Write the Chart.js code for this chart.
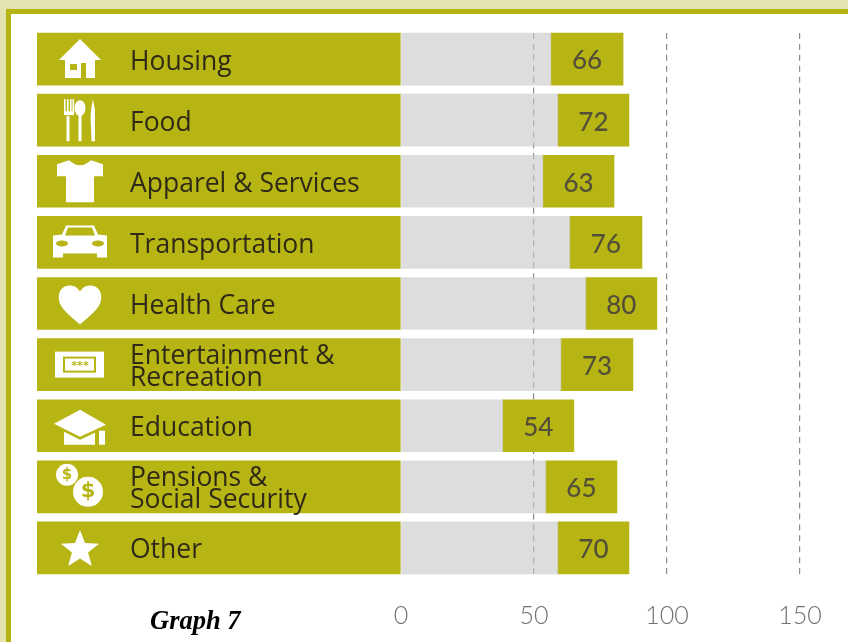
<!DOCTYPE html>
<html>
<head>
<meta charset="utf-8">
<title>Graph 7</title>
<script src="https://cdn.jsdelivr.net/npm/chart.js@4"></script>
<style>
  html, body { margin: 0; padding: 0; width: 848px; height: 642px; overflow: hidden; background: #e4e3b0; }
  #panel { position: absolute; left: 6px; top: 9px; width: 842px; height: 633px; box-sizing: border-box;
           background: #fff; border-top: 5px solid #b5b30f; border-left: 5px solid #b5b30f; }
  #barChart { position: absolute; left: 0; top: 0; }
  #caption { position: absolute; left: 150px; top: 605px; font: italic bold 26.5px "Liberation Serif", serif; color: #000; }
</style>
</head>
<body>
<div id="panel"></div>
<canvas id="barChart" width="848" height="642"></canvas>
<div id="caption">Graph 7</div>
<script>
const categories = ["Housing", "Food", "Apparel & Services", "Transportation", "Health Care",
  ["Entertainment &", "Recreation"], "Education", ["Pensions &", "Social Security"], "Other"];
const values = [66, 72, 63, 76, 80, 73, 54, 65, 70];
// the bars in the picture do not sit on the axis at their printed value, so these are read off it
const grayEnds = [56.4, 59, 53.4, 63.5, 69.5, 60.2, 38.3, 54.5, 59];
const barEnds = [83.5, 85.7, 80.1, 90.6, 96.2, 87.2, 65, 81.2, 85.7];
const labelStart = -136.8;
const xTicks = [0, 50, 100, 150];

const OLIVE = "#b7b513";
// see-through so the dashed grid line under it still shows, the olive boxes hide it
const GRAY = "rgba(200,200,202,0.62)";
const LABEL_FONT = "'Open Sans', sans-serif";
const NUMBER_FONT = "Lato, sans-serif";

// white pictograms, drawn around (0,0) in a box of about 50x50
const icons = [
  function house(c) {
    c.beginPath();
    c.moveTo(0, -20); c.lineTo(21, 1); c.lineTo(15, 1); c.lineTo(15, 19); c.lineTo(6, 19); c.lineTo(6, 4);
    c.lineTo(1, 4); c.lineTo(1, 19); c.lineTo(-15, 19); c.lineTo(-15, 1); c.lineTo(-21, 1); c.closePath();
    c.fill();
    c.fillStyle = OLIVE; c.fillRect(-10, 5, 7, 6);
  },
  function cutlery(c) {
    c.fillRect(-13.5, -4, 3, 25);
    for (let x of [-16, -13, -10, -7.5]) c.fillRect(x, -21, 1.6, 13);
    c.fillRect(-16, -9, 10, 4);
    c.beginPath(); c.ellipse(0, -12, 5.5, 8, 0, 0, Math.PI * 2); c.fill();
    c.fillRect(-1.5, -5, 3, 26);
    c.beginPath();
    c.moveTo(13, -21); c.quadraticCurveTo(9.5, -6, 11, 6); c.lineTo(11.5, 21); c.lineTo(15, 21); c.lineTo(15, -10); c.closePath();
    c.fill();
  },
  function shirt(c) {
    c.beginPath();
    c.moveTo(-11, -21); c.quadraticCurveTo(0, -11, 11, -21); c.lineTo(23, -17); c.lineTo(23, -5); c.lineTo(14, -5);
    c.lineTo(14, 21); c.lineTo(-14, 21); c.lineTo(-14, -5); c.lineTo(-23, -5); c.lineTo(-23, -17); c.closePath();
    c.fill();
  },
  function car(c) {
    c.beginPath();
    c.moveTo(-18, -8); c.lineTo(-14, -17); c.lineTo(14, -17); c.lineTo(18, -8); c.lineTo(27, -7); c.lineTo(27, 15);
    c.lineTo(17, 15); c.lineTo(17, 11); c.lineTo(-17, 11); c.lineTo(-17, 15); c.lineTo(-27, 15);
    c.lineTo(-27, -7); c.closePath();
    c.fill();
    c.fillStyle = OLIVE;
    c.beginPath(); c.moveTo(-15, -7); c.lineTo(-12, -15); c.lineTo(12, -15); c.lineTo(15, -7); c.closePath(); c.fill();
    c.beginPath(); c.ellipse(-18, 1, 6, 3, 0, 0, Math.PI * 2); c.ellipse(18, 1, 6, 3, 0, 0, Math.PI * 2); c.fill();
  },
  function heart(c) {
    c.beginPath();
    c.moveTo(0, 21);
    c.bezierCurveTo(-14, 9, -23, 2, -21, -9);
    c.bezierCurveTo(-19, -20, -5, -21, 0, -12);
    c.bezierCurveTo(5, -21, 19, -20, 21, -9);
    c.bezierCurveTo(23, 2, 14, 9, 0, 21);
    c.fill();
  },
  function ticket(c) {
    c.fillRect(-25, -13, 49, 26);
    c.fillStyle = OLIVE; c.fillRect(-17, -8, 33, 16);
    c.fillStyle = "#fff"; c.fillRect(-15, -6, 29, 12);
    c.fillStyle = OLIVE; c.font = "bold 11px 'DejaVu Sans'"; c.textAlign = "center"; c.textBaseline = "middle";
    c.fillText("***", 0, 2);
  },
  function cap(c) {
    c.beginPath(); c.moveTo(0, -16); c.lineTo(26, -1); c.lineTo(0, 11); c.lineTo(-26, -2); c.closePath(); c.fill();
    c.beginPath(); c.moveTo(-16, 6); c.lineTo(0, 14); c.lineTo(15, 7); c.lineTo(15, 19); c.lineTo(-16, 19); c.closePath(); c.fill();
    c.fillRect(19, 5, 6, 14);
  },
  function coins(c) {
    c.beginPath(); c.arc(-13, -12, 11, 0, Math.PI * 2); c.fill();
    c.beginPath(); c.arc(8, 5, 15, 0, Math.PI * 2); c.fill();
    c.fillStyle = OLIVE; c.textAlign = "center"; c.textBaseline = "middle";
    c.font = "bold 15px 'DejaVu Sans'"; c.fillText("$", -13, -12);
    c.font = "bold 21px 'DejaVu Sans'"; c.fillText("$", 8, 5);
  },
  function star(c) {
    c.beginPath();
    for (let i = 0; i < 10; i++) {
      const r = i % 2 ? 8.5 : 20, a = -Math.PI / 2 + i * Math.PI / 5;
      c.lineTo(r * Math.cos(a), r * Math.sin(a) + 2);
    }
    c.closePath(); c.fill();
  }
];

const decorations = {
  id: "decorations",
  afterDatasetsDraw(chart) {
    const c = chart.ctx;
    const y = chart.scales.y;
    icons.forEach((draw, i) => {
      c.save();
      c.translate(80, y.getPixelForValue(i));
      c.fillStyle = "#fff";
      draw(c);
      c.restore();
    });
    // printed value, centred in the olive end box
    c.save();
    c.font = "500 26px " + NUMBER_FONT;
    c.fillStyle = "#534f38";
    c.textAlign = "center";
    c.textBaseline = "middle";
    chart.getDatasetMeta(2).data.forEach((bar, i) => {
      c.fillText(values[i], bar.getCenterPoint().x, bar.y + 2);
    });
    c.restore();
  }
};

new Chart(document.getElementById("barChart").getContext("2d"), {
  type: "bar",
  plugins: [decorations],
  data: {
    labels: categories,
    datasets: [
      { label: "Category", data: categories.map(() => [labelStart, 0]), backgroundColor: OLIVE },
      { label: "Fill", data: grayEnds.map(v => [0, v]), backgroundColor: GRAY },
      { label: "Value", data: grayEnds.map((v, i) => [v, barEnds[i]]), backgroundColor: OLIVE }
    ]
  },
  options: {
    indexAxis: "y",
    responsive: false,
    animation: false,
    grouped: false,
    barThickness: 52,
    layout: { padding: { left: 37, top: 28.5 } },
    plugins: { legend: { display: false }, tooltip: { enabled: false } },
    scales: {
      x: {
        min: labelStart,
        max: 168.05,
        afterBuildTicks: s => { s.ticks = xTicks.map(value => ({ value })); },
        afterFit: s => { s.height = 63.5; },
        border: { display: false, dash: [6, 4.92], dashOffset: 6.42 },
        grid: {
          drawTicks: false,
          lineWidth: 1.2,
          color: ctx => ctx.tick && ctx.tick.value === 0 ? "rgba(0,0,0,0)" : "#8c8c8c"
        },
        ticks: {
          autoSkip: false,
          maxRotation: 0,
          padding: 22,
          color: "#707070",
          font: { family: NUMBER_FONT, size: 25, weight: 300 }
        }
      },
      y: {
        // mirrored labels sit inside the olive band, and their padding must not shrink the plot
        afterFit: s => { s.width = 0; s.paddingTop = 0; s.paddingBottom = 0; },
        border: { display: false },
        grid: { display: false },
        ticks: {
          z: 1,
          mirror: true,
          padding: 93,
          labelOffset: 3,
          color: "#2f2a18",
          font: { family: LABEL_FONT, size: 26.5, weight: 500, lineHeight: 0.83 }
        }
      }
    }
  }
});
</script>
</body>
</html>
